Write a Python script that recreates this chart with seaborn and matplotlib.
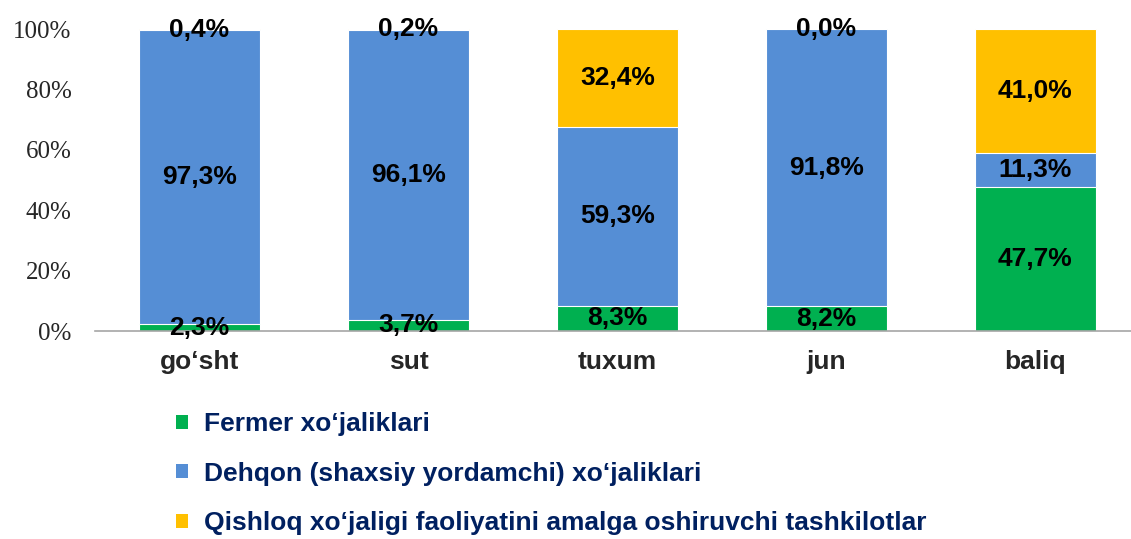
import numpy as np
import pandas as pd
import matplotlib
matplotlib.use("Agg")
import matplotlib.pyplot as plt
import seaborn as sns
from matplotlib.patches import Patch

categories = ["go‘sht", "sut", "tuxum", "jun", "baliq"]
fermer = [2.3, 3.7, 8.3, 8.2, 47.7]
dehqon = [97.3, 96.1, 59.3, 91.8, 11.3]
tashkilot = [0.4, 0.2, 32.4, 0.0, 41.0]

series_names = [
    "Fermer xo‘jaliklari",
    "Dehqon (shaxsiy yordamchi) xo‘jaliklari",
    "Qishloq xo‘jaligi faoliyatini amalga oshiruvchi tashkilotlar",
]
colors = ["#00B050", "#558ED5", "#FFC000"]
y_ticks = [0, 20, 40, 60, 80, 100]

sns.set_style("white")
plt.rcParams["font.family"] = ["Liberation Sans", "DejaVu Sans"]

df = pd.DataFrame({
    "cat": categories,
    "fermer": fermer,
    "dehqon": dehqon,
    "tashkilot": tashkilot,
})
df["c1"] = df["fermer"]
df["c2"] = df["fermer"] + df["dehqon"]
df["c3"] = df["c2"] + df["tashkilot"]

fig = plt.figure(figsize=(11.31, 5.39), dpi=100)
ax = fig.add_axes([95 / 1131, 1 - 331 / 539, 1 - 95 / 1131, 302 / 539])

# cumulative bars drawn tallest first so each layer covers the one behind
for col, c in zip(["c3", "c2", "c1"], colors[::-1]):
    sns.barplot(data=df, x="cat", y=col, color=c, width=0.575,
                edgecolor="white", linewidth=0.8, ax=ax, saturation=1)

# data labels in the middle of each segment
bottoms = np.zeros(len(categories))
for vals in [fermer, dehqon, tashkilot]:
    for i, v in enumerate(vals):
        ax.text(i, bottoms[i] + v / 2, f"{v:.1f}%".replace(".", ","),
                ha="center", va="center", fontsize=19, fontweight="bold",
                color="black")
    bottoms += np.array(vals)

ax.set_xlim(-0.5, 4.457)
ax.set_ylim(0, 100)
ax.set_yticks(y_ticks)
ax.set_yticklabels([f"{t}%" for t in y_ticks], family="Liberation Serif",
                   fontsize=18)
ax.tick_params(axis="y", length=0, pad=17)
ax.tick_params(axis="x", length=0, pad=14, labelsize=19)
for lbl in ax.get_xticklabels():
    lbl.set_fontweight("bold")
ax.set_xlabel("")
ax.set_ylabel("")
for s in ["top", "right", "left"]:
    ax.spines[s].set_visible(False)
ax.spines["bottom"].set_color("#A6A6A6")
ax.spines["bottom"].set_linewidth(1.2)

handles = [Patch(facecolor=c, edgecolor="none") for c in colors]
fig.legend(handles, series_names, loc="upper left",
           bbox_to_anchor=(176 / 1131, 1 - 412 / 539), frameon=False,
           handlelength=0.45, handleheight=0.45, handletextpad=0.6,
           labelspacing=0.97, borderpad=0, borderaxespad=0,
           labelcolor="#002060", prop={"weight": "bold", "size": 19})

fig.savefig("out.png", dpi=100)
